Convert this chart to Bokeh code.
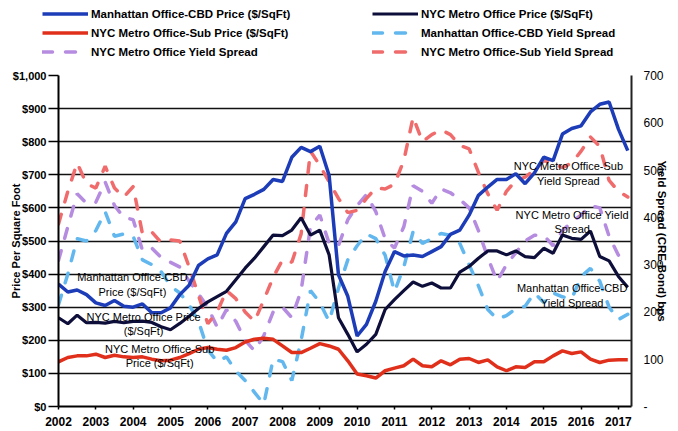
from bokeh.plotting import figure
from bokeh.layouts import column
from bokeh.models import (Range1d, LinearAxis, FixedTicker, NumeralTickFormatter,
                          Legend, LegendItem, Label, ColumnDataSource)
from bokeh.embed import file_html
from bokeh.resources import INLINE

# ---------------- data (quarterly, 2002 Q1 .. 2017 Q2) ----------------
years = list(range(2002, 2018))
quarters = [y + q / 4 for y in years for q in range(4)][:62]

price_ticks = [0, 100, 200, 300, 400, 500, 600, 700, 800, 900, 1000]
spread_ticks = [0, 100, 200, 300, 400, 500, 600, 700]

manhattan_cbd_price = [
    370, 346, 352, 338, 313, 305, 320, 303, 300, 310, 283, 283,
    298, 338, 366, 426, 446, 458, 523, 558, 628, 641, 656, 686,
    680, 753, 783, 770, 786, 698, 398, 333, 213, 248, 318, 408,
    468, 455, 458, 453, 468, 483, 520, 533, 578, 638, 663, 686,
    686, 703, 673, 706, 753, 743, 823, 840, 848, 890, 913, 920,
    838, 773]

nyc_metro_price = [
    268, 250, 276, 253, 254, 252, 257, 253, 257, 258, 254, 241,
    232, 251, 273, 296, 316, 332, 348, 383, 418, 448, 483, 518,
    516, 533, 570, 518, 533, 458, 268, 218, 165, 188, 218, 293,
    323, 350, 376, 363, 373, 358, 358, 406, 423, 448, 470, 470,
    458, 470, 453, 450, 478, 463, 518, 508, 505, 530, 453, 440,
    393, 360]

nyc_sub_price = [
    135, 148, 153, 153, 158, 148, 155, 150, 148, 150, 143, 138,
    140, 148, 160, 173, 178, 173, 170, 178, 195, 203, 206, 203,
    183, 163, 163, 176, 190, 183, 173, 138, 98, 93, 86, 108,
    116, 123, 143, 123, 120, 138, 126, 143, 145, 133, 141, 120,
    108, 120, 118, 135, 135, 153, 168, 160, 165, 143, 133, 140,
    141, 141]

manhattan_cbd_spread = [
    215, 280, 355, 350, 372, 412, 360, 365, 360, 310, 300, 285,
    255, 240, 215, 180, 120, 95, 105, 75, 55, 30, 5, 100,
    95, 55, 140, 245, 220, 180, 250, 310, 340, 365, 355, 320,
    243, 295, 370, 345, 355, 366, 362, 345, 300, 255, 205, 185,
    192, 207, 212, 240, 220, 240, 232, 228, 275, 292, 265, 210,
    184, 195]

nyc_metro_spread = [
    309, 380, 450, 430, 432, 475, 425, 400, 395, 330, 335, 315,
    305, 295, 265, 238, 210, 168, 205, 180, 140, 118, 150, 200,
    210, 188, 245, 380, 405, 345, 340, 395, 425, 448, 412, 355,
    335, 380, 467, 455, 430, 460, 452, 438, 420, 372, 315, 265,
    300, 325, 350, 362, 362, 340, 372, 390, 405, 425, 420, 360,
    320, 312]

nyc_sub_spread = [
    386, 455, 515, 471, 462, 508, 462, 443, 465, 365, 369, 347,
    352, 350, 295, 235, 175, 200, 245, 228, 200, 180, 225, 273,
    310, 305, 365, 540, 510, 475, 440, 410, 415, 440, 462, 460,
    470, 520, 612, 560, 575, 585, 575, 552, 545, 495, 450, 415,
    455, 478, 485, 500, 520, 515, 505, 515, 540, 570, 550, 478,
    455, 443]

src = ColumnDataSource(dict(
    q=quarters, cbd=manhattan_cbd_price, metro=nyc_metro_price, sub=nyc_sub_price,
    cbd_s=manhattan_cbd_spread, metro_s=nyc_metro_spread, sub_s=nyc_sub_spread))

FONT = "Liberation Sans"
BLUE = "#1c3cb8"
NAVY = "#0e0e3a"
RED = "#e0301c"
LBLUE = "#62b8ee"
LAV = "#b68ce0"
SALMON = "#f06c6c"
DASH = "10 13"

STYLES = {
    "cbd": dict(line_color=BLUE, line_width=3.5),
    "metro": dict(line_color=NAVY, line_width=3.2),
    "sub": dict(line_color=RED, line_width=3.5),
    "cbd_s": dict(line_color=LBLUE, line_width=3.5, line_dash=DASH, line_cap="round"),
    "metro_s": dict(line_color=LAV, line_width=3.5, line_dash=DASH, line_cap="round"),
    "sub_s": dict(line_color=SALMON, line_width=3.5, line_dash=DASH, line_cap="round"),
}

W = 670
LEG_H = 64
TOTAL_H = 430

# ---------------- main chart ----------------
p = figure(width=W, height=TOTAL_H - LEG_H, output_backend="svg", toolbar_location=None,
           x_range=Range1d(2002, 2017.35), y_range=Range1d(0, 1000),
           min_border_left=58, min_border_right=W - 631, min_border_top=75 - LEG_H,
           min_border_bottom=TOTAL_H - 406, outline_line_color=None)
p.extra_y_ranges = {"spread": Range1d(0, 700)}

xa = p.xaxis[0]
xa.ticker = FixedTicker(ticks=years)
xa.axis_line_color = "black"
xa.axis_line_width = 2
xa.major_tick_out = 3
xa.major_tick_in = 0
xa.major_tick_line_color = "black"
xa.major_tick_line_width = 1.5
xa.minor_tick_line_color = None
xa.major_label_standoff = 7
xa.major_label_text_font = FONT
xa.major_label_text_font_style = "bold"
xa.major_label_text_font_size = "12px"
xa.major_label_text_color = "black"

ya = p.yaxis[0]
ya.ticker = FixedTicker(ticks=price_ticks)
ya.formatter = NumeralTickFormatter(format="$0,0")
ya.axis_line_color = "black"
ya.axis_line_width = 2
ya.major_tick_out = 10
ya.major_tick_in = 0
ya.major_tick_line_color = "black"
ya.major_tick_line_width = 1.3
ya.minor_tick_line_color = None
ya.major_label_standoff = 2
ya.major_label_text_font = FONT
ya.major_label_text_font_style = "bold"
ya.major_label_text_font_size = "11px"
ya.major_label_text_color = "black"
ya.axis_label = "Price Per Square Foot"
ya.axis_label_standoff = -12
ya.axis_label_text_font = FONT
ya.axis_label_text_font_style = "bold"
ya.axis_label_text_font_size = "11px"
ya.axis_label_text_color = "black"

ra = LinearAxis(y_range_name="spread", ticker=FixedTicker(ticks=spread_ticks),
                major_label_overrides={0: "-"})
ra.axis_line_color = "#222222"
ra.axis_line_width = 2
ra.major_tick_out = 0
ra.major_tick_in = 0
ra.minor_tick_line_color = None
ra.major_label_standoff = 12
ra.major_label_text_font = FONT
ra.major_label_text_font_size = "12px"
ra.major_label_text_color = "black"
ra.axis_label = "Yield Spread (CRE-Bond) bps"
ra.axis_label_standoff = -11
ra.axis_label_text_font = FONT
ra.axis_label_text_font_style = "bold"
ra.axis_label_text_font_size = "11.5px"
ra.axis_label_text_color = "black"
p.add_layout(ra, "right")

p.xgrid.visible = False
p.ygrid.ticker = FixedTicker(ticks=price_ticks)
p.ygrid.grid_line_color = "#111111"
p.ygrid.grid_line_width = 1.3

for key in ["cbd_s", "metro_s", "sub_s"]:
    p.line("q", key, source=src, y_range_name="spread", **STYLES[key])
for key in ["sub", "metro", "cbd"]:
    p.line("q", key, source=src, **STYLES[key])

def note(x, y, text, rng="default"):
    p.add_layout(Label(x=x, y=y, text=text, y_range_name=rng,
                       text_align="center", text_baseline="middle",
                       text_font=FONT, text_font_size="11px", text_color="black"))

note(2003.98, 369, "Manhattan Office-CBD\nPrice ($/SqFt)")
note(2004.28, 249, "NYC Metro Office Price\n($/SqFt)")
note(2004.71, 153, "NYC Metro Office-Sub\nPrice ($/SqFt)")
note(2015.66, 493, "NYC Metro Office-Sub\nYield Spread", "spread")
note(2015.76, 390, "NYC Metro Office Yield\nSpread", "spread")
note(2015.76, 235, "Manhattan Office-CBD\nYield Spread", "spread")

# ---------------- legend strip ----------------
lf = figure(width=W, height=LEG_H, output_backend="svg", toolbar_location=None,
            x_axis_type=None, y_axis_type=None, min_border=0,
            min_border_left=0, min_border_right=0, min_border_top=0, min_border_bottom=0,
            x_range=Range1d(0, 1), y_range=Range1d(0, 1), outline_line_color=None)
lf.grid.visible = False
for fig in (lf, p):
    if "frame_align" in fig.properties():
        fig.frame_align = False
proxy = {k: lf.line([0.5], [-5], **STYLES[k]) for k in STYLES}

def make_legend(items, loc):
    return Legend(items=items, location=loc, orientation="vertical",
                  glyph_width=46, glyph_height=13, label_height=13,
                  label_standoff=3, spacing=6, padding=0, margin=0,
                  border_line_color=None, background_fill_alpha=0,
                  label_text_font=FONT, label_text_font_style="bold",
                  label_text_font_size="11.5px", label_text_color="black")

lf.add_layout(make_legend([
    LegendItem(label="Manhattan Office-CBD Price ($/SqFt)", renderers=[proxy["cbd"]]),
    LegendItem(label="NYC Metro Office-Sub Price ($/SqFt)", renderers=[proxy["sub"]]),
    LegendItem(label="NYC Metro Office Yield Spread", renderers=[proxy["metro_s"]]),
], (42, 6)))
lf.add_layout(make_legend([
    LegendItem(label="NYC Metro Office Price ($/SqFt)", renderers=[proxy["metro"]]),
    LegendItem(label="Manhattan Office-CBD Yield Spread", renderers=[proxy["cbd_s"]]),
    LegendItem(label="NYC Metro Office-Sub Yield Spread", renderers=[proxy["sub_s"]]),
], (372, 6)))

layout = column(lf, p, spacing=0)
open("out.html", "w").write(file_html(layout, INLINE))
